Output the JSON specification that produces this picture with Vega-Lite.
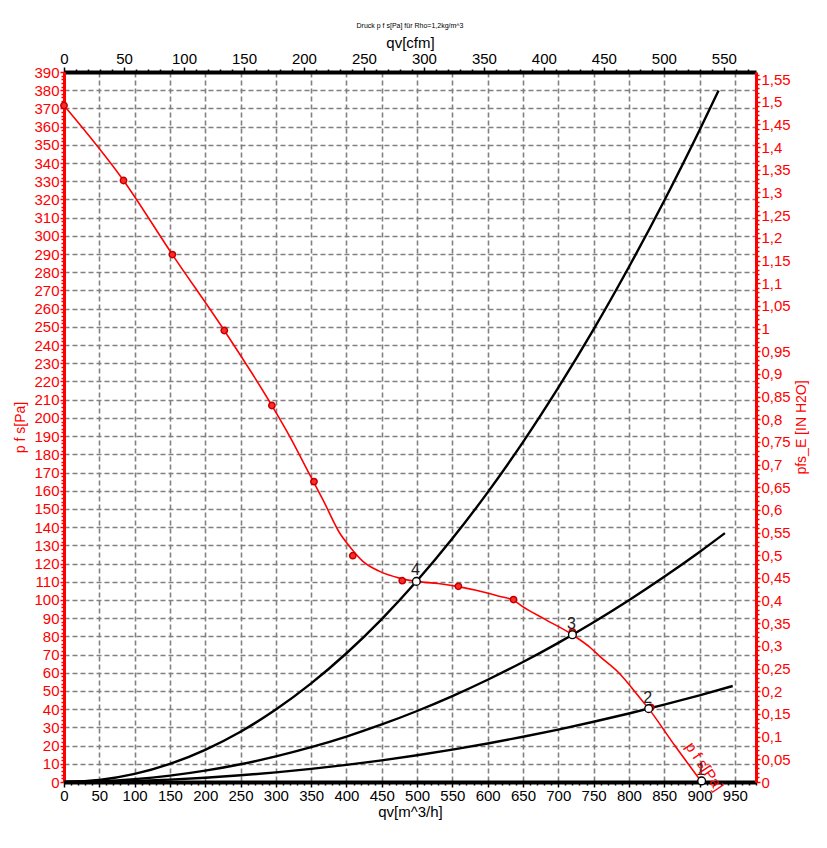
{
  "$schema": "https://vega.github.io/schema/vega-lite/v6.json",
  "width": 692,
  "height": 710,
  "autosize": {"type": "none"},
  "padding": {"left": 64, "top": 72, "right": 71, "bottom": 66},
  "background": "white",
  "title": {"text": "Druck p f s[Pa] für Rho=1,2kg/m^3", "fontSize": 7, "font": "Liberation Sans", "fontWeight": "normal", "color": "black", "anchor": "middle", "offset": 6},
  "config": {"view": {"stroke": null}, "font": "Liberation Sans"},
  "datasets": {
    "system": [
      {"curve": "A", "qv": 0, "p": 0}, {"curve": "A", "qv": 50, "p": 1.1}, {"curve": "A", "qv": 100, "p": 4.42}, {"curve": "A", "qv": 150, "p": 9.95}, {"curve": "A", "qv": 200, "p": 17.68}, {"curve": "A", "qv": 250, "p": 27.63}, {"curve": "A", "qv": 300, "p": 39.78}, {"curve": "A", "qv": 350, "p": 54.15}, {"curve": "A", "qv": 400, "p": 70.72}, {"curve": "A", "qv": 450, "p": 89.5}, {"curve": "A", "qv": 500, "p": 110.5}, {"curve": "A", "qv": 550, "p": 133.7}, {"curve": "A", "qv": 600, "p": 159.1}, {"curve": "A", "qv": 650, "p": 186.7}, {"curve": "A", "qv": 700, "p": 216.6}, {"curve": "A", "qv": 750, "p": 248.6}, {"curve": "A", "qv": 800, "p": 282.9}, {"curve": "A", "qv": 850, "p": 319.3}, {"curve": "A", "qv": 900, "p": 358.0}, {"curve": "A", "qv": 927, "p": 379.8},
      {"curve": "B", "qv": 0, "p": 0}, {"curve": "B", "qv": 50, "p": 0.39}, {"curve": "B", "qv": 100, "p": 1.56}, {"curve": "B", "qv": 150, "p": 3.51}, {"curve": "B", "qv": 200, "p": 6.24}, {"curve": "B", "qv": 250, "p": 9.75}, {"curve": "B", "qv": 300, "p": 14.04}, {"curve": "B", "qv": 350, "p": 19.11}, {"curve": "B", "qv": 400, "p": 24.96}, {"curve": "B", "qv": 450, "p": 31.59}, {"curve": "B", "qv": 500, "p": 39.0}, {"curve": "B", "qv": 550, "p": 47.19}, {"curve": "B", "qv": 600, "p": 56.16}, {"curve": "B", "qv": 650, "p": 65.91}, {"curve": "B", "qv": 700, "p": 76.44}, {"curve": "B", "qv": 750, "p": 87.75}, {"curve": "B", "qv": 800, "p": 99.84}, {"curve": "B", "qv": 850, "p": 112.71}, {"curve": "B", "qv": 900, "p": 126.36}, {"curve": "B", "qv": 936, "p": 136.7},
      {"curve": "C", "qv": 0, "p": 0}, {"curve": "C", "qv": 50, "p": 0.15}, {"curve": "C", "qv": 100, "p": 0.59}, {"curve": "C", "qv": 150, "p": 1.32}, {"curve": "C", "qv": 200, "p": 2.35}, {"curve": "C", "qv": 250, "p": 3.68}, {"curve": "C", "qv": 300, "p": 5.29}, {"curve": "C", "qv": 350, "p": 7.2}, {"curve": "C", "qv": 400, "p": 9.41}, {"curve": "C", "qv": 450, "p": 11.9}, {"curve": "C", "qv": 500, "p": 14.7}, {"curve": "C", "qv": 550, "p": 17.79}, {"curve": "C", "qv": 600, "p": 21.17}, {"curve": "C", "qv": 650, "p": 24.84}, {"curve": "C", "qv": 700, "p": 28.81}, {"curve": "C", "qv": 750, "p": 33.08}, {"curve": "C", "qv": 800, "p": 37.63}, {"curve": "C", "qv": 850, "p": 42.48}, {"curve": "C", "qv": 900, "p": 47.63}, {"curve": "C", "qv": 947, "p": 52.73}
    ],
    "fan": [
      {"qv": 0, "p": 371.6}, {"qv": 84.3, "p": 330.4}, {"qv": 153.5, "p": 289.7}, {"qv": 227, "p": 248}, {"qv": 294.4, "p": 206.8}, {"qv": 320, "p": 189.6}, {"qv": 348, "p": 168.8}, {"qv": 366.8, "p": 155}, {"qv": 390.4, "p": 136.8}, {"qv": 404.5, "p": 129.4}, {"qv": 423.3, "p": 121.2}, {"qv": 447, "p": 115.7}, {"qv": 475, "p": 112}, {"qv": 499, "p": 110.2}, {"qv": 530, "p": 109}, {"qv": 558.5, "p": 107.3}, {"qv": 583.5, "p": 105.3}, {"qv": 616.4, "p": 102}, {"qv": 636.6, "p": 99.8}, {"qv": 649, "p": 96.5}, {"qv": 682, "p": 89.2}, {"qv": 720, "p": 80.9}, {"qv": 746, "p": 73.6}, {"qv": 758.8, "p": 69}, {"qv": 786, "p": 59.9}, {"qv": 814, "p": 47}, {"qv": 828, "p": 40.3}, {"qv": 865, "p": 20}, {"qv": 903, "p": 0}
    ],
    "measured": [
      {"qv": 0, "p": 371.6}, {"qv": 84.3, "p": 330.4}, {"qv": 153.5, "p": 289.7}, {"qv": 227, "p": 248}, {"qv": 294.4, "p": 206.8}, {"qv": 354, "p": 165}, {"qv": 409, "p": 124.3}, {"qv": 479, "p": 110.6}, {"qv": 558.5, "p": 107.5}, {"qv": 636.6, "p": 100.2}, {"qv": 720, "p": 82.5}, {"qv": 831, "p": 41}
    ],
    "ops": [
      {"id": "1", "qv": 903, "p": 0.6},
      {"id": "2", "qv": 828, "p": 40.3},
      {"id": "3", "qv": 720, "p": 80.9},
      {"id": "4", "qv": 499, "p": 110.2}
    ],
    "curvelabel": [
      {"label": "p f s[Pa]", "qv": 907, "p": 8.5}
    ]
  },
  "layer": [
    {
      "layer": [
        {
          "data": {"name": "system"},
          "mark": {"type": "line", "color": "black", "strokeWidth": 2.4, "interpolate": "monotone"},
          "encoding": {
            "x": {"field": "qv", "type": "quantitative", "scale": {"domain": [0, 980], "nice": false},
              "axis": {"orient": "bottom", "title": "qv[m^3/h]", "tickCount": 98,
                "labelExpr": "datum.value % 50 == 0 ? datum.label : ''", "labelOverlap": false, "labelFlush": false,
                "grid": true, "gridColor": "#808080", "gridDash": [5, 3], "gridWidth": 1.6,
                "gridOpacity": {"condition": {"test": "datum.value % 50 == 0 && datum.value > 0", "value": 1}, "value": 0},
                "domainColor": "black", "domainWidth": 4, "tickColor": "black", "tickWidth": 1.5,
                "tickSize": {"condition": {"test": "datum.value % 50 == 0", "value": 5}, "value": 3},
                "labelColor": "black", "labelFontSize": 15, "labelFont": "Liberation Sans", "labelPadding": 1,
                "titleColor": "black", "titleFontSize": 15, "titleFontWeight": "normal", "titleFont": "Liberation Sans", "titlePadding": 1}},
            "y": {"field": "p", "type": "quantitative", "scale": {"domain": [0, 390], "nice": false},
              "axis": {"orient": "left", "title": "p f s[Pa]", "tickCount": 195,
                "labelExpr": "datum.value % 10 == 0 ? datum.label : ''", "labelOverlap": false, "labelFlush": false,
                "grid": true, "gridColor": "#808080", "gridDash": [5, 3], "gridWidth": 1.6,
                "gridOpacity": {"condition": {"test": "datum.value % 10 == 0 && datum.value > 0", "value": 1}, "value": 0},
                "domainColor": "#ff0000", "domainWidth": 3, "tickColor": "#ff0000", "tickWidth": 1.5,
                "tickSize": {"condition": {"test": "datum.value % 10 == 0", "value": 4}, "value": 3},
                "labelColor": "#ff0000", "labelFontSize": 15, "labelFont": "Liberation Sans", "labelPadding": 1,
                "titleColor": "#ff0000", "titleFontSize": 14, "titleFontWeight": "normal", "titleFont": "Liberation Sans", "titlePadding": 6}},
            "detail": {"field": "curve"}
          }
        },
        {
          "data": {"name": "fan"},
          "mark": {"type": "line", "color": "#ff0000", "strokeWidth": 1.6, "interpolate": "monotone"},
          "encoding": {
            "x": {"field": "qv", "type": "quantitative"},
            "y": {"field": "p", "type": "quantitative"}
          }
        },
        {
          "data": {"name": "measured"},
          "mark": {"type": "point", "shape": "circle", "filled": true, "fill": "#ff2a2a", "stroke": "#c00000", "strokeWidth": 1.5, "size": 40, "opacity": 1},
          "encoding": {
            "x": {"field": "qv", "type": "quantitative"},
            "y": {"field": "p", "type": "quantitative"}
          }
        },
        {
          "data": {"name": "ops"},
          "mark": {"type": "point", "shape": "circle", "filled": true, "fill": "white", "stroke": "black", "strokeWidth": 1.4, "size": 60, "opacity": 1},
          "encoding": {
            "x": {"field": "qv", "type": "quantitative"},
            "y": {"field": "p", "type": "quantitative"}
          }
        },
        {
          "data": {"name": "ops"},
          "mark": {"type": "text", "fontSize": 16, "font": "Liberation Sans", "color": "#222222", "dy": -11, "dx": -1},
          "encoding": {
            "x": {"field": "qv", "type": "quantitative"},
            "y": {"field": "p", "type": "quantitative"},
            "text": {"field": "id"}
          }
        },
        {
          "data": {"name": "curvelabel"},
          "mark": {"type": "text", "fontSize": 15, "font": "Liberation Sans", "color": "#ff0000", "angle": 56, "align": "center", "baseline": "middle"},
          "encoding": {
            "x": {"field": "qv", "type": "quantitative"},
            "y": {"field": "p", "type": "quantitative"},
            "text": {"field": "label"}
          }
        }
      ]
    },
    {
      "mark": {"type": "rule", "opacity": 0},
      "encoding": {
        "x": {"datum": 0, "type": "quantitative", "scale": {"domain": [0, 576.8], "nice": false},
          "axis": {"orient": "top", "title": "qv[cfm]", "tickCount": 58,
            "labelExpr": "datum.value % 50 == 0 ? datum.label : ''", "labelOverlap": false, "labelFlush": false,
            "grid": false, "domainColor": "black", "domainWidth": 4, "tickColor": "black", "tickWidth": 1.5,
            "tickSize": {"condition": {"test": "datum.value % 50 == 0", "value": 5}, "value": 3},
            "labelColor": "black", "labelFontSize": 15, "labelFont": "Liberation Sans", "labelPadding": 1,
            "titleColor": "black", "titleFontSize": 15, "titleFontWeight": "normal", "titleFont": "Liberation Sans", "titlePadding": 1}}
      }
    },
    {
      "mark": {"type": "rule", "opacity": 0},
      "encoding": {
        "y": {"datum": 0, "type": "quantitative", "scale": {"domain": [0, 1.5657], "nice": false},
          "axis": {"orient": "right", "title": "pfs_E [IN H2O]", "tickCount": 157,
            "labelExpr": "round(datum.value * 100) % 5 == 0 ? replace(format(datum.value, '.2~f'), '.', ',') : ''", "labelOverlap": false, "labelFlush": false,
            "grid": false, "domainColor": "#ff0000", "domainWidth": 3, "tickColor": "#ff0000", "tickWidth": 1.5,
            "tickSize": {"condition": {"test": "round(datum.value * 100) % 5 == 0", "value": 4}, "value": 3},
            "labelColor": "#ff0000", "labelFontSize": 15, "labelFont": "Liberation Sans", "labelPadding": 1,
            "titleColor": "#ff0000", "titleFontSize": 14, "titleFontWeight": "normal", "titleFont": "Liberation Sans", "titlePadding": 18, "titleAngle": -90}}
      }
    }
  ],
  "resolve": {"scale": {"x": "independent", "y": "independent"}}
}
